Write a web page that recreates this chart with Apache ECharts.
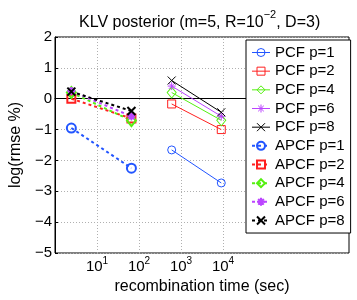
<!DOCTYPE html>
<html>
<head>
<meta charset="utf-8">
<script src="https://cdn.jsdelivr.net/npm/echarts@6/dist/echarts.min.js"></script>
<style>
html,body{margin:0;padding:0;background:#fff;}
#chart{width:357px;height:300px;}
</style>
</head>
<body>
<div id="chart"></div>
<script>
// ---- data ----
const apcfTime = [2.45, 66];
const pcfTime = [600, 9100];
const pcf1 = [-1.66, -2.73];
const pcf2 = [-0.17, -1.0];
const pcf4 = [0.2, -0.7];
const pcf6 = [0.41, -0.57];
const pcf8 = [0.59, -0.44];
const apcf1 = [-0.95, -2.25];
const apcf2 = [0.0, -0.64];
const apcf4 = [0.2, -0.71];
const apcf6 = [0.25, -0.57];
const apcf8 = [0.23, -0.4];
const xGridDecades = [10, 100, 1000, 10000];
const seriesNames = ['PCF p=1','PCF p=2','PCF p=4','PCF p=6','PCF p=8','APCF p=1','APCF p=2','APCF p=4','APCF p=6','APCF p=8'];

const FONT = 'Liberation Sans, Arial, Helvetica, sans-serif';
const BLUE = '#2255ff', RED = '#ff2020', GREEN = '#55f011', PURPLE = '#bb44ff', BLACK = '#000000';
const STAR = 'path://M5,0L5,10M0,5L10,5M1.5,1.5L8.5,8.5M8.5,1.5L1.5,8.5';
const XMARK = 'path://M0,0L10,10M10,0L0,10';

function pairs(xs, ys){ return xs.map((x,i)=>[x, ys[i]]); }

function mk(name, xs, ys, color, symbol, size, thick){
  return {
    name: name, type: 'line',
    data: pairs(xs, ys),
    symbol: symbol, symbolSize: size,
    showSymbol: true,
    lineStyle: {color: color, width: thick ? 2 : 1, type: thick ? [3,3] : 'solid'},
    itemStyle: {color: 'rgba(0,0,0,0)', borderColor: color, borderWidth: thick ? 2 : 1},
    emphasis: {disabled: true},
    z: thick ? 4 : 3
  };
}

const series = [
  mk('PCF p=1', pcfTime, pcf1, BLUE, 'circle', 8, false),
  mk('PCF p=2', pcfTime, pcf2, RED, 'rect', 8, false),
  mk('PCF p=4', pcfTime, pcf4, GREEN, 'diamond', [9,11], false),
  mk('PCF p=6', pcfTime, pcf6, PURPLE, STAR, 8, false),
  mk('PCF p=8', pcfTime, pcf8, BLACK, XMARK, 8, false),
  mk('APCF p=1', apcfTime, apcf1, BLUE, 'circle', 9, true),
  mk('APCF p=2', apcfTime, apcf2, RED, 'rect', 8, true),
  mk('APCF p=4', apcfTime, apcf4, GREEN, 'diamond', [9,11], true),
  mk('APCF p=6', apcfTime, apcf6, PURPLE, STAR, 8, true),
  mk('APCF p=8', apcfTime, apcf8, BLACK, XMARK, 8, true)
];
series[0].markLine = {
  silent: true, symbol: 'none', label: {show: false},
  lineStyle: {color: '#b0b0b0', type: [1,2], width: 1},
  data: xGridDecades.map(v => ({xAxis: v})),
  z: 1
};

const legendData = series.map(s => ({
  name: s.name,
  lineStyle: {width: s.lineStyle.width, color: s.lineStyle.color, type: s.lineStyle.type},
  itemStyle: {color: 'rgba(0,0,0,0)', borderColor: s.lineStyle.color, borderWidth: s.itemStyle.borderWidth}
}));

const chart = echarts.init(document.getElementById('chart'), null, {renderer: 'canvas'});
chart.setOption({
  animation: false,
  backgroundColor: '#fff',
  textStyle: {fontFamily: FONT},
  title: {
    text: '{t|KLV posterior (m=5, R=10}{s|\u22122}{t|, D=3)}',
    left: 74, top: 4,
    textStyle: {
      fontWeight: 'normal',
      rich: {
        t: {fontFamily: FONT, fontSize: 16, fontWeight: 'normal', color: '#000', lineHeight: 22, verticalAlign: 'bottom'},
        s: {fontFamily: FONT, fontSize: 11, fontWeight: 'normal', color: '#000', lineHeight: 22, verticalAlign: 'top'}
      }
    }
  },
  grid: {left: 46, right: 8, top: 37, bottom: 44, show: true, borderColor: '#000', borderWidth: 1},
  legend: {
    data: legendData,
    orient: 'vertical',
    left: 246, top: 40,
    backgroundColor: '#fff',
    borderColor: '#000', borderWidth: 1,
    padding: [5, 6, 5, 5],
    itemWidth: 18, itemHeight: 10, itemGap: 3.67,
    textStyle: {fontFamily: FONT, fontSize: 15, color: '#000', lineHeight: 15},
    selectedMode: false
  },
  xAxis: {
    type: 'log', logBase: 10, min: 1, max: 1e7,
    name: 'recombination time (sec)', nameLocation: 'middle', nameGap: 26,
    nameTextStyle: {fontFamily: FONT, fontSize: 16, color: '#000'},
    axisLine: {lineStyle: {color: '#000', width: 1}},
    axisTick: {show: false},
    splitLine: {show: false},
    axisLabel: {
      margin: 3,
      formatter: function(v){
        const e = Math.round(Math.log10(v));
        if (e < 1 || e > 4) return '';
        return '{b|10}{s|' + e + '}';
      },
      rich: {
        b: {fontFamily: FONT, fontSize: 15, color: '#000', lineHeight: 18, verticalAlign: 'bottom'},
        s: {fontFamily: FONT, fontSize: 10, color: '#000', lineHeight: 18, verticalAlign: 'top'}
      }
    }
  },
  yAxis: {
    type: 'value', min: -5, max: 2, interval: 1,
    name: 'log(rmse %)', nameLocation: 'middle', nameGap: 26,
    nameTextStyle: {fontFamily: FONT, fontSize: 16, color: '#000'},
    axisLine: {lineStyle: {color: '#000', width: 1}},
    axisTick: {inside: true, length: 3, lineStyle: {color: '#000'}},
    splitLine: {show: true, lineStyle: {color: '#b0b0b0', type: [1,2], width: 1}},
    axisLabel: {
      margin: 3, fontFamily: FONT, fontSize: 15, color: '#000',
      formatter: v => String(v).replace('-', '\u2212')
    }
  },
  series: series
});
</script>
</body>
</html>
